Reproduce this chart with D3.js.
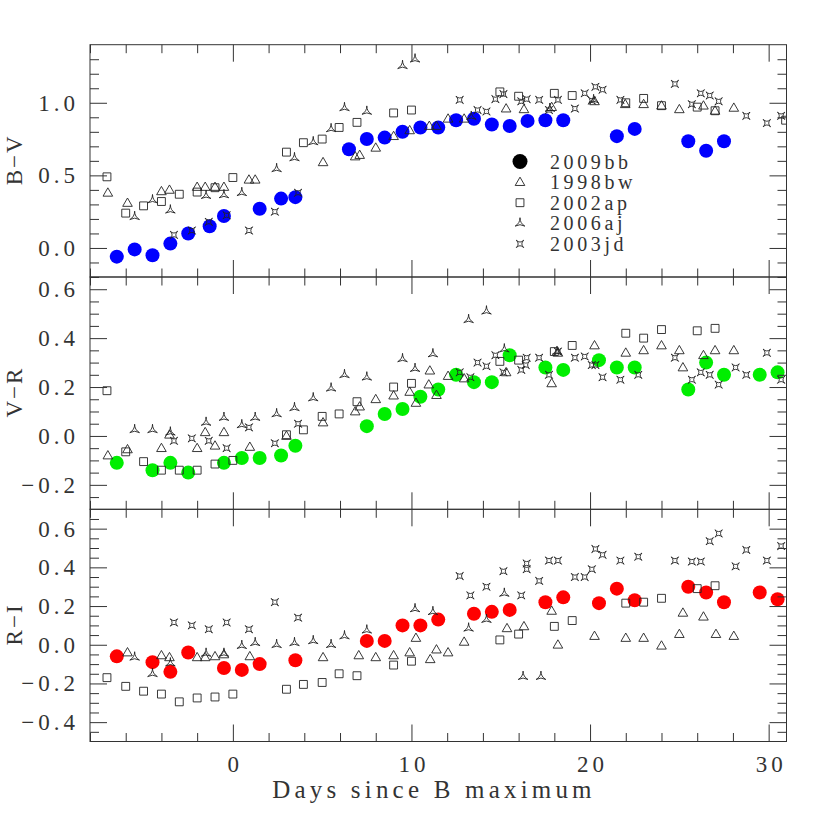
<!DOCTYPE html>
<html><head><meta charset="utf-8">
<script src="https://cdn.jsdelivr.net/npm/d3@7"></script>
<style>body{margin:0;background:#fff}svg{display:block}</style>
</head><body><svg id="c" width="830" height="830"></svg>
<script>
// ---------------- DATA ----------------
// SN 2009bb (filled circles)
const bb_BV_t = [-6.5,-5.5,-4.5,-3.5,-2.5,-1.3,-0.5,1.5,2.7,3.5,6.5,7.5,8.5,9.5,10.5,11.5,12.5,13.5,14.5,15.5,16.5,17.5,18.5,21.5,22.5,25.5,26.5,27.5];
const bb_BV   = [-0.06,-0.01,-0.05,0.03,0.10,0.15,0.22,0.27,0.34,0.35,0.68,0.75,0.76,0.80,0.83,0.83,0.88,0.89,0.85,0.84,0.875,0.88,0.88,0.77,0.82,0.735,0.67,0.735];
const bb_VR_t = [-6.5,-4.5,-3.5,-2.5,-0.5,0.5,1.5,2.7,3.5,7.5,8.5,9.5,10.5,11.5,12.5,13.5,14.5,15.5,17.5,18.5,20.5,21.5,22.5,25.5,26.5,27.5,29.5,30.5];
const bb_VR   = [-0.11,-0.14,-0.11,-0.15,-0.11,-0.09,-0.09,-0.08,-0.04,0.04,0.09,0.11,0.16,0.19,0.25,0.22,0.22,0.33,0.28,0.27,0.31,0.28,0.28,0.19,0.30,0.25,0.25,0.26];
const bb_RI_t = [-6.5,-4.5,-3.5,-2.5,-0.5,0.5,1.5,3.5,7.5,8.5,9.5,10.5,11.5,13.5,14.5,15.5,17.5,18.5,20.5,21.5,22.5,25.5,26.5,27.5,29.5,30.5];
const bb_RI   = [-0.06,-0.09,-0.14,-0.04,-0.12,-0.13,-0.10,-0.08,0.02,0.02,0.10,0.10,0.13,0.16,0.17,0.18,0.22,0.245,0.215,0.29,0.23,0.30,0.27,0.22,0.27,0.235];

// SN 1998bw (open triangles) [day, colour]
const bw_BV = [[-7.0,0.38],[-5.9,0.31],[-4.0,0.39],[-3.55,0.40],[-2.0,0.42],[-1.55,0.42],[-1.0,0.42],[-0.5,0.42],[0.9,0.47],[1.25,0.47],[5.05,0.59],[6.85,0.63],[7.1,0.64],[8.0,0.69],[9.0,0.77],[9.9,0.81],[11.0,0.84],[11.4,0.84],[12.05,0.89],[12.95,0.89],[15.3,0.96],[16.3,0.955],[17.85,0.97],[20.25,1.01],[21.97,0.99],[23.0,0.99],[24.0,0.98],[25.0,0.955],[26.35,0.98],[27.0,0.945],[28.05,0.965]];
const bw_VR = [[-7.0,-0.08],[-5.9,-0.055],[-4.0,-0.05],[-3.55,0.005],[-2.0,-0.05],[-1.55,0.015],[-1.0,-0.04],[-0.5,0.015],[0.95,-0.045],[3.0,0.0],[5.05,0.055],[6.85,0.10],[7.1,0.12],[8.0,0.15],[9.0,0.165],[9.9,0.18],[10.25,0.135],[10.97,0.21],[11.03,0.267],[11.4,0.167],[12.05,0.245],[12.95,0.235],[15.3,0.26],[17.85,0.215],[18.2,0.34],[20.25,0.37],[22.0,0.34],[23.0,0.35],[24.0,0.37],[25.0,0.35],[25.2,0.28],[26.35,0.33],[27.0,0.35],[28.05,0.35]];
const bw_RI = [[-5.9,-0.04],[-4.0,-0.055],[-3.55,-0.065],[-2.0,-0.065],[-1.55,-0.065],[-1.0,-0.06],[-0.5,-0.05],[0.95,-0.06],[5.05,-0.065],[7.05,-0.055],[8.0,-0.065],[9.0,-0.055],[9.9,-0.04],[10.25,0.035],[11.05,-0.075],[11.4,-0.025],[12.05,-0.04],[12.95,0.015],[15.35,0.085],[16.3,0.095],[17.85,0.175],[18.2,0.0],[20.25,0.045],[22.0,0.035],[23.0,0.035],[24.0,-0.005],[25.0,0.055],[25.2,0.165],[26.35,0.145],[27.05,0.055],[28.05,0.045]];

// SN 2002ap (open squares)
const ap_BV = [[-7.05,0.49],[-6.0,0.24],[-5.0,0.29],[-4.0,0.32],[-3.0,0.37],[-2.0,0.385],[-1.0,0.415],[0.0,0.485],[3.0,0.66],[3.95,0.725],[5.0,0.75],[5.95,0.83],[6.95,0.865],[9.0,0.93],[10.0,0.95],[14.95,1.075],[16.0,1.045],[18.0,1.065],[19.0,1.05],[22.0,1.0],[23.0,1.03],[24.0,0.98],[26.0,0.97],[27.0,0.945],[30.95,0.88]];
const ap_VR = [[-7.05,0.185],[-6.0,-0.065],[-5.0,-0.105],[-4.0,-0.14],[-3.0,-0.14],[-2.0,-0.14],[-1.0,-0.115],[0.0,-0.10],[3.0,0.005],[3.95,0.025],[5.0,0.08],[5.95,0.09],[6.95,0.14],[9.0,0.20],[10.0,0.215],[14.95,0.305],[16.0,0.31],[18.0,0.345],[19.0,0.37],[22.0,0.42],[23.0,0.40],[24.0,0.435],[26.0,0.43],[27.0,0.44]];
const ap_RI = [[-7.05,-0.17],[-6.0,-0.215],[-5.0,-0.24],[-4.0,-0.255],[-3.0,-0.295],[-2.0,-0.275],[-1.0,-0.27],[0.0,-0.255],[3.0,-0.23],[3.95,-0.205],[5.0,-0.195],[5.95,-0.15],[6.95,-0.16],[9.0,-0.105],[10.0,-0.085],[14.95,0.025],[16.0,0.055],[18.0,0.095],[19.0,0.125],[22.0,0.215],[23.0,0.22],[24.0,0.24],[26.0,0.29],[27.0,0.305]];

// SN 2006aj (three-pointed stars)
const aj_BV = [[-5.5,0.215],[-4.5,0.33],[-3.5,0.26],[-1.5,0.36],[-0.5,0.365],[0.5,0.38],[2.45,0.545],[3.45,0.62],[4.5,0.73],[5.5,0.82],[6.25,0.965],[7.5,0.94],[9.5,1.255],[10.2,1.30],[13.35,0.905],[17.75,0.96],[20.2,1.02]];
const aj_VR = [[-5.5,0.025],[-4.5,0.025],[-3.5,0.015],[-1.5,0.055],[-0.5,0.075],[0.5,0.045],[1.25,0.075],[2.45,0.09],[3.45,0.115],[4.5,0.155],[5.5,0.195],[6.25,0.25],[7.5,0.24],[9.5,0.315],[10.2,0.275],[11.2,0.335],[13.2,0.475],[14.2,0.51],[15.2,0.355],[18.15,0.345]];
const aj_RI = [[-5.5,-0.065],[-4.5,-0.15],[-3.5,-0.095],[-1.5,-0.045],[-0.5,-0.045],[0.5,-0.005],[1.25,0.01],[2.45,0.0],[3.45,0.01],[4.5,0.02],[5.5,0.0],[6.25,0.045],[7.5,0.075],[10.2,0.185],[11.2,0.17],[13.2,0.085],[14.2,0.13],[15.2,0.265],[16.25,-0.165],[17.25,-0.165]];

// SN 2003jd (four-pointed stars)
const jd_BV = [[-3.3,0.09],[-2.3,0.12],[-1.35,0.18],[-0.35,0.225],[0.9,0.12],[2.35,0.25],[3.65,0.38],[12.7,1.02],[13.7,0.95],[14.2,0.94],[14.7,1.025],[15.15,1.06],[16.15,1.01],[16.45,1.025],[17.15,1.02],[17.7,0.95],[18.2,1.02],[19.15,0.96],[19.7,1.065],[20.1,1.015],[20.3,1.11],[20.7,1.09],[21.7,1.02],[24.75,1.13],[25.7,0.99],[26.2,1.065],[26.7,1.05],[27.2,1.01],[28.75,0.91],[29.9,0.86],[30.7,0.91]];
const jd_VR = [[-3.3,-0.02],[-2.3,-0.01],[-1.35,-0.02],[-0.35,-0.05],[0.9,0.035],[2.35,-0.03],[3.65,0.05],[12.7,0.26],[13.3,0.24],[13.7,0.30],[14.2,0.285],[14.7,0.33],[15.15,0.26],[16.15,0.27],[16.4,0.29],[16.45,0.32],[17.15,0.32],[17.7,0.25],[18.2,0.345],[19.15,0.32],[19.7,0.325],[20.1,0.29],[20.3,0.29],[20.7,0.24],[21.7,0.23],[22.7,0.25],[24.75,0.32],[25.7,0.23],[26.2,0.26],[26.7,0.25],[27.2,0.21],[28.15,0.28],[28.75,0.25],[29.9,0.34],[30.7,0.23]];
const jd_RI = [[-3.3,0.115],[-2.3,0.10],[-1.35,0.08],[-0.35,0.115],[0.9,0.08],[2.35,0.22],[3.65,0.14],[12.7,0.355],[13.3,0.255],[14.2,0.30],[15.15,0.38],[16.15,0.255],[16.45,0.42],[16.45,0.39],[17.15,0.33],[17.7,0.435],[18.2,0.435],[19.15,0.35],[19.7,0.35],[20.1,0.39],[20.3,0.495],[20.7,0.465],[21.7,0.435],[22.7,0.455],[24.75,0.435],[25.7,0.43],[26.2,0.43],[26.7,0.535],[27.2,0.575],[28.15,0.405],[28.75,0.49],[29.9,0.435],[30.7,0.51]];

// Axis ticks / labels
const xMajor = [0,10,20,30];
const xMajorLabels = ["0","10","20","30"];
const xMinor = [-8,-6,-4,-2,2,4,6,8,12,14,16,18,22,24,26,28];
const bvMajor = [0,0.5,1.0];
const bvLabels = ["0.0","0.5","1.0"];
const bvMinor = [-0.2,-0.1,0.1,0.2,0.3,0.4,0.6,0.7,0.8,0.9,1.1,1.2,1.3];
const vrMajor = [-0.2,0,0.2,0.4,0.6];
const vrLabels = ["\u22120.2","0.0","0.2","0.4","0.6"];
const vrMinor = [-0.25,-0.15,-0.1,-0.05,0.05,0.1,0.15,0.25,0.3,0.35,0.45,0.5,0.55];
const riMajor = [-0.4,-0.2,0,0.2,0.4,0.6];
const riLabels = ["\u22120.4","\u22120.2","0.0","0.2","0.4","0.6"];
const riMinor = [-0.45,-0.35,-0.3,-0.25,-0.15,-0.1,-0.05,0.05,0.1,0.15,0.25,0.3,0.35,0.45,0.5,0.55,0.65];
const legendNames = ["2009bb","1998bw","2002ap","2006aj","2003jd"];
const yTitles = ["B\u2212V","V\u2212R","R\u2212I"];
const xTitle = "Days since B maximum";
const bbColors = ["#0000ff","#00ee00","#ff0000"];

// ---------------- LAYOUT ----------------
const svg = d3.select("#c");
const L = 90, R = 786.5;
const ink = "#333";
const font = "'Liberation Serif','Times New Roman',serif";
const x = d3.scaleLinear().domain([-8,31]).range([L,R]);

// custom concave star symbols
function starType(n, rot){
  return {draw(ctx, size){
    const r = Math.sqrt(size)/2*1.25;
    const pts = d3.range(n).map(i=>{const a = rot + i*2*Math.PI/n; return [r*Math.cos(a), r*Math.sin(a)];});
    ctx.moveTo(pts[0][0], pts[0][1]);
    for(let i=1;i<=n;i++){const p = pts[i%n]; ctx.quadraticCurveTo(0,0,p[0],p[1]);}
    ctx.closePath();
  }};
}
const symTri = d3.symbol().type(d3.symbolTriangle).size(40);
const symSq = d3.symbol().type(d3.symbolSquare).size(62);
const symS3 = d3.symbol().type(starType(3,-Math.PI/2)).size(80);
const symS4 = d3.symbol().type(starType(4,-Math.PI/4)).size(70);
const symCirc = d3.symbol().type(d3.symbolCircle).size(Math.PI*49);

const panels = [
  {top:44.7, bot:277, dom:[-0.2,1.4], major:bvMajor, labels:bvLabels, minor:bvMinor,
   bbt:bb_BV_t, bbv:bb_BV, bw:bw_BV, ap:ap_BV, aj:aj_BV, jd:jd_BV},
  {top:277, bot:509.3, dom:[-0.3,0.65], major:vrMajor, labels:vrLabels, minor:vrMinor,
   bbt:bb_VR_t, bbv:bb_VR, bw:bw_VR, ap:ap_VR, aj:aj_VR, jd:jd_VR},
  {top:509.3, bot:741.5, dom:[-0.5,0.7], major:riMajor, labels:riLabels, minor:riMinor,
   bbt:bb_RI_t, bbv:bb_RI, bw:bw_RI, ap:ap_RI, aj:aj_RI, jd:jd_RI}
];

function styleAxis(g){
  g.select(".domain").remove();
  g.selectAll(".tick line").attr("stroke", ink).attr("stroke-width",1);
  g.selectAll("text").attr("font-family", font).attr("font-size", 23).attr("fill", ink)
   .attr("letter-spacing", "4px");
}

panels.forEach((p, i) => {
  const y = d3.scaleLinear().domain(p.dom).range([p.bot, p.top]);
  const g = svg.append("g");
  const cid = "clip"+i;
  svg.append("clipPath").attr("id", cid).append("rect")
    .attr("x", L).attr("y", p.top).attr("width", R-L).attr("height", p.bot-p.top);

  const pg = g.append("g").attr("clip-path", `url(#${cid})`);
  // 2009bb first
  pg.selectAll(".bb").data(p.bbt.map((t,k)=>[t,p.bbv[k]])).join("path")
    .attr("d", symCirc).attr("fill", bbColors[i])
    .attr("transform", d=>`translate(${x(d[0])},${y(d[1])})`);
  const sets = [[p.bw, symTri, 0.6],[p.ap, symSq, 0],[p.aj, symS3, 0],[p.jd, symS4, 0]];
  sets.forEach(([data, sym, dy]) => {
    pg.append("g").selectAll("path").data(data).join("path")
      .attr("d", sym).attr("fill","none").attr("stroke","#222").attr("stroke-width",0.9)
      .attr("transform", d=>`translate(${x(d[0])},${y(d[1])+dy})`);
  });

  // axes (ticks inside on all sides)
  const fmt = d => p.labels[p.major.indexOf(d)];
  g.append("g").attr("transform",`translate(${L},0)`)
    .call(d3.axisLeft(y).tickValues(p.major).tickSize(-17).tickPadding(11).tickFormat(fmt)).call(styleAxis);
  g.append("g").attr("transform",`translate(${L},0)`)
    .call(d3.axisLeft(y).tickValues(p.minor).tickSize(-9).tickFormat("")).call(styleAxis);
  g.append("g").attr("transform",`translate(${R},0)`)
    .call(d3.axisRight(y).tickValues(p.major).tickSize(-17).tickFormat("")).call(styleAxis);
  g.append("g").attr("transform",`translate(${R},0)`)
    .call(d3.axisRight(y).tickValues(p.minor).tickSize(-9).tickFormat("")).call(styleAxis);
  g.append("g").attr("transform",`translate(0,${p.top})`)
    .call(d3.axisTop(x).tickValues(xMajor).tickSize(-17).tickFormat("")).call(styleAxis);
  g.append("g").attr("transform",`translate(0,${p.top})`)
    .call(d3.axisTop(x).tickValues(xMinor).tickSize(-8.5).tickFormat("")).call(styleAxis);
  const bx = g.append("g").attr("transform",`translate(0,${p.bot})`)
    .call(d3.axisBottom(x).tickValues(xMajor).tickSize(-17)
      .tickFormat(i===2 ? (d => xMajorLabels[xMajor.indexOf(d)]) : "")).call(styleAxis);
  bx.selectAll("text").attr("y", 30).attr("dy", 0).attr("dx", 2);
  g.append("g").attr("transform",`translate(0,${p.bot})`)
    .call(d3.axisBottom(x).tickValues(xMinor).tickSize(-8.5).tickFormat("")).call(styleAxis);

  // frame
  g.append("rect").attr("x", L).attr("y", p.top).attr("width", R-L).attr("height", p.bot-p.top)
    .attr("fill","none").attr("stroke", ink).attr("stroke-width", 1);

  // y title
  g.append("text").text(yTitles[i])
    .attr("transform", `translate(22,${(p.top+p.bot)/2}) rotate(-90)`)
    .attr("text-anchor","middle").attr("dx", 1)
    .attr("font-family", font).attr("font-size", 23).attr("fill", ink).attr("letter-spacing","2px");

  if (i === 0) {
    const lg = g.append("g");
    const syms = [null, symTri, symSq, symS3, symS4];
    legendNames.forEach((nm, k) => {
      const yy = 161.5 + k*20.6;
      if (k === 0) lg.append("path").attr("d", d3.symbol().type(d3.symbolCircle).size(Math.PI*56)())
        .attr("fill","#000").attr("transform",`translate(520,${yy})`);
      else lg.append("path").attr("d", syms[k]()).attr("fill","none").attr("stroke","#222").attr("stroke-width",0.9)
        .attr("transform",`translate(520,${yy + (k===1?0.6:0)})`);
      lg.append("text").text(nm).attr("x", 550).attr("y", yy).attr("dy","0.35em")
        .attr("font-family", font).attr("font-size", 20).attr("fill", ink).attr("letter-spacing","3.6px");
    });
  }
});

svg.append("text").text(xTitle).attr("x", 434).attr("y", 797.5).attr("text-anchor","middle")
  .attr("font-family", font).attr("font-size", 25).attr("fill", ink).attr("letter-spacing","4.2px");
</script></body></html>
